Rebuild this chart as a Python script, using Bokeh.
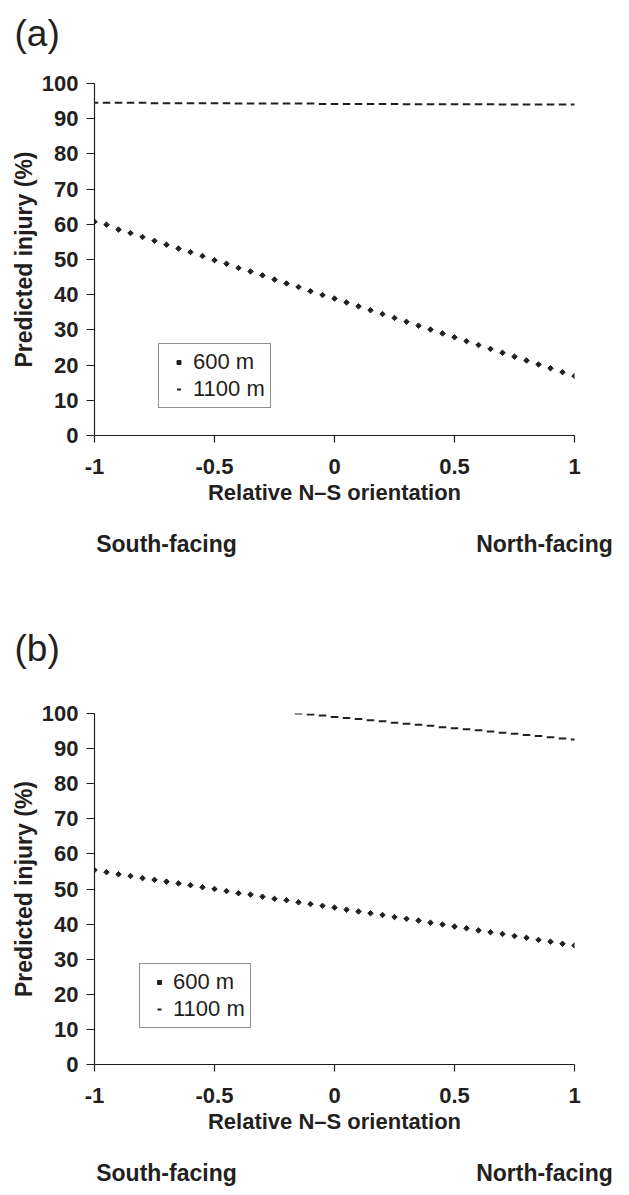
import numpy as np
from bokeh.plotting import figure
from bokeh.models import Range1d, FixedTicker, Legend, LegendItem, LinearAxis, Title
from bokeh.layouts import column
from bokeh.core.properties import value
from bokeh.embed import file_html
from bokeh.resources import INLINE

# ---------------- data ----------------
ORIENT = [-1.0, -0.95, -0.9, -0.85, -0.8, -0.75, -0.7, -0.65, -0.6, -0.55,
          -0.5, -0.45, -0.4, -0.35, -0.3, -0.25, -0.2, -0.15, -0.1, -0.05,
          0.0, 0.05, 0.1, 0.15, 0.2, 0.25, 0.3, 0.35, 0.4, 0.45,
          0.5, 0.55, 0.6, 0.65, 0.7, 0.75, 0.8, 0.85, 0.9, 0.95, 1.0]

INJURY_A_600 = [60.7, 59.9, 58.5, 57.5, 56.4, 55.3, 54.2, 53.1, 52.1, 51.0,
                49.8, 48.8, 47.6, 46.6, 45.5, 44.3, 43.2, 42.2, 41.0, 39.9,
                38.9, 37.8, 36.7, 35.6, 34.5, 33.4, 32.3, 31.2, 30.1, 29.0,
                27.9, 26.8, 25.7, 24.6, 23.5, 22.4, 21.3, 20.2, 19.1, 18.0, 16.9]
INJURY_A_1100 = [94.5, 94.5, 94.5, 94.5, 94.5, 94.4, 94.4, 94.4, 94.4, 94.4,
                 94.4, 94.4, 94.3, 94.3, 94.3, 94.3, 94.3, 94.3, 94.3, 94.2,
                 94.2, 94.2, 94.2, 94.2, 94.2, 94.2, 94.1, 94.1, 94.1, 94.1,
                 94.1, 94.1, 94.1, 94.1, 94.0, 94.0, 94.0, 94.0, 94.0, 94.0, 94.0]

INJURY_B_600 = [55.4, 54.8, 54.2, 53.7, 53.1, 52.6, 52.1, 51.6, 51.1, 50.5,
                50.0, 49.4, 48.8, 48.4, 47.8, 47.2, 46.8, 46.2, 45.7, 45.2,
                44.7, 44.1, 43.6, 43.1, 42.6, 42.0, 41.5, 41.0, 40.4, 39.9,
                39.3, 38.8, 38.2, 37.7, 37.2, 36.6, 36.1, 35.5, 35.0, 34.4, 33.9]
ORIENT_B_1100 = [-0.15, -0.1, -0.05, 0.0, 0.05, 0.1, 0.15, 0.2, 0.25, 0.3,
                 0.35, 0.4, 0.45, 0.5, 0.55, 0.6, 0.65, 0.7, 0.75, 0.8,
                 0.85, 0.9, 0.95, 1.0]
INJURY_B_1100 = [100.0, 99.7, 99.4, 99.0, 98.7, 98.4, 98.1, 97.8, 97.4, 97.1,
                 96.8, 96.5, 96.1, 95.8, 95.5, 95.2, 94.9, 94.5, 94.2, 93.9,
                 93.6, 93.2, 92.9, 92.6]

PANEL_TAGS = ["(a)", "(b)"]
SERIES_LABELS = ["600 m", "1100 m"]
X_TICKS = [-1, -0.5, 0, 0.5, 1]
X_TICK_LABELS = ["-1", "-0.5", "0", "0.5", "1"]
Y_TICKS = [0, 10, 20, 30, 40, 50, 60, 70, 80, 90, 100]
X_TITLE = "Relative N\u2013S orientation"
Y_TITLE = "Predicted injury (%)"
SIDE_X = [-0.70, 0.875]
SIDE_LABELS = ["South-facing", "North-facing"]

INK = "#231f20"
FONT = "Liberation Sans"
W = 629


def make_tag(tag, height, standoff):
    """Thin strip above a panel that only carries the panel letter."""
    t = figure(width=W, height=height, output_backend="svg",
               toolbar_location=None, x_axis_location=None,
               y_axis_location=None, x_range=Range1d(0, 1),
               y_range=Range1d(0, 1), min_border=0)
    t.outline_line_color = None
    t.grid.visible = False
    t.add_layout(Title(text=tag, align="left", offset=-80,
                       vertical_align="bottom", standoff=standoff,
                       text_font=FONT, text_font_size="37px",
                       text_font_style="normal", text_color=INK), "above")
    return t


def make_panel(x600, y600, x1100, y1100, top, frame_h, height,
               leg_loc, leg_gw):
    p = figure(width=W, height=height, output_backend="svg",
               toolbar_location=None,
               x_range=Range1d(-1, 1), y_range=Range1d(0, 100),
               min_border_left=94, min_border_right=55,
               min_border_top=top, min_border_bottom=height - top - frame_h)
    p.outline_line_color = None
    p.grid.visible = False
    p.background_fill_color = "white"
    p.border_fill_color = "white"

    r600 = p.scatter(x600, y600, marker="square", angle=np.pi / 4, size=3.9,
                     fill_color=INK, line_color=INK, line_width=1)
    r1100 = p.scatter(x1100, y1100, marker="dash", size=7.5,
                      line_color=INK, line_width=2)

    xa = p.xaxis[0]
    ya = p.yaxis[0]
    xa.ticker = FixedTicker(ticks=X_TICKS)
    xa.major_label_overrides = dict(zip(X_TICKS, X_TICK_LABELS))
    ya.ticker = FixedTicker(ticks=Y_TICKS)
    for ax in (xa, ya):
        ax.axis_line_color = INK
        ax.axis_line_width = 1.2
        ax.major_tick_line_color = INK
        ax.major_tick_line_width = 1.2
        ax.major_tick_in = 0
        ax.major_tick_out = 7
        ax.minor_tick_line_color = None
        ax.major_label_text_font = FONT
        ax.major_label_text_font_style = "bold"
        ax.major_label_text_font_size = "22px"
        ax.major_label_text_color = INK
        ax.axis_label_text_font = FONT
        ax.axis_label_text_font_style = "bold"
        ax.axis_label_text_font_size = "22px"
        ax.axis_label_text_color = INK
    xa.axis_label = X_TITLE
    xa.major_label_standoff = 16
    xa.axis_label_standoff = 3
    ya.axis_label = Y_TITLE
    ya.axis_label_text_font_size = "23px"
    ya.major_tick_out = 8
    ya.major_label_standoff = 8
    ya.axis_label_standoff = 2

    # "South-facing" / "North-facing" captions under the x axis
    side = LinearAxis(ticker=FixedTicker(ticks=SIDE_X),
                      major_label_overrides=dict(zip(SIDE_X, SIDE_LABELS)),
                      axis_line_color=None, major_tick_line_color=None,
                      minor_tick_line_color=None, major_tick_out=0,
                      major_tick_in=0, major_label_standoff=23,
                      major_label_text_font=FONT,
                      major_label_text_font_style="bold",
                      major_label_text_font_size="23px",
                      major_label_text_color=INK)
    p.add_layout(side, "below")

    leg = Legend(items=[LegendItem(label=value(SERIES_LABELS[0]), renderers=[r600]),
                        LegendItem(label=value(SERIES_LABELS[1]), renderers=[r1100])],
                 location=leg_loc, orientation="vertical", padding=5, spacing=1,
                 margin=0, label_text_font=FONT, label_text_font_size="22px",
                 label_text_color=INK, label_height=22, glyph_height=10,
                 glyph_width=leg_gw, label_standoff=0,
                 border_line_color=INK, border_line_width=1,
                 background_fill_color="white", background_fill_alpha=1)
    p.add_layout(leg)
    return p


# page rows: tag a 0-67, panel a 67-603, tag b 603-697, panel b 697-1193
tag_a = make_tag(PANEL_TAGS[0], 67, 20)
pa = make_panel(ORIENT, INJURY_A_600, ORIENT, INJURY_A_1100,
                top=16, frame_h=352, height=536, leg_loc=(64, 27), leg_gw=29)
tag_b = make_tag(PANEL_TAGS[1], 94, 44)
pb = make_panel(ORIENT, INJURY_B_600, ORIENT_B_1100, INJURY_B_1100,
                top=16, frame_h=351, height=496, leg_loc=(45, 36), leg_gw=28)

layout = column(tag_a, pa, tag_b, pb, spacing=0)
open("out.html", "w").write(file_html(layout, INLINE))
